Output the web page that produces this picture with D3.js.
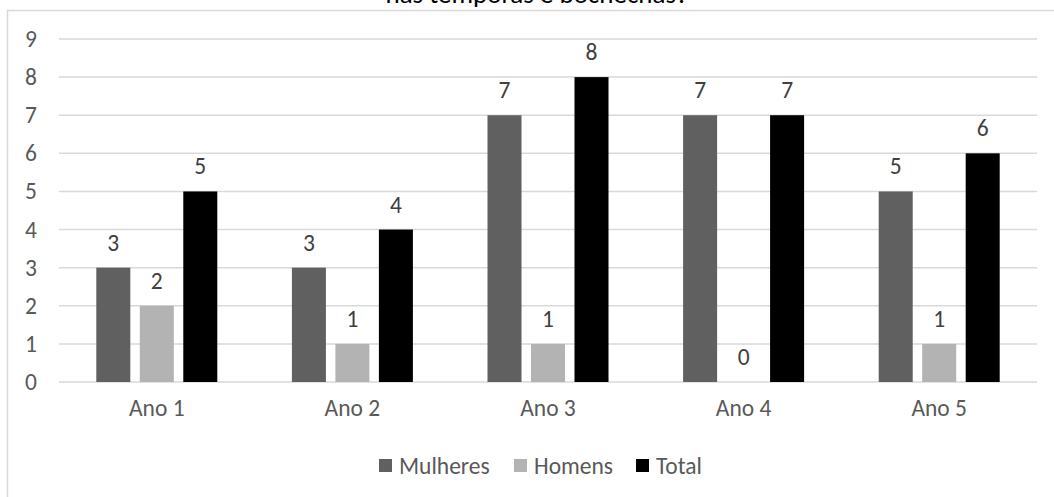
<!DOCTYPE html>
<html>
<head>
<meta charset="utf-8">
<script src="https://cdn.jsdelivr.net/npm/d3@7"></script>
<style>
  body { margin: 0; background: #fff; }
  svg { display: block; font-family: Carlito, Lato, "Open Sans", sans-serif; }
</style>
</head>
<body>
<div id="chart"></div>
<script>
// data
var categories = ["Ano 1", "Ano 2", "Ano 3", "Ano 4", "Ano 5"];
var seriesNames = ["Mulheres", "Homens", "Total"];
var mulheres = [3, 3, 7, 7, 5];
var homens = [2, 1, 1, 0, 1];
var total = [5, 4, 8, 7, 6];
var yTicks = [0, 1, 2, 3, 4, 5, 6, 7, 8, 9];
var colors = ["#606060", "#b3b3b3", "#000000"];

var width = 1054, height = 497;
var margin = { top: 39, right: 17, bottom: 115, left: 59 };
var fs = 23.5;

var svg = d3.select("#chart").append("svg")
  .attr("width", width).attr("height", height);

// chart border (cut off at the right and bottom)
svg.append("rect")
  .attr("x", 7.5).attr("y", 10.5)
  .attr("width", 1100).attr("height", 600)
  .attr("fill", "none").attr("stroke", "#d9d9d9").attr("stroke-width", 1.5);

// title, mostly cut off at the top like in the source image
svg.append("text")
  .attr("x", 537).attr("y", 3)
  .attr("text-anchor", "middle")
  .attr("font-size", 27)
  .attr("fill", "#000")
  .text("nas têmporas e bochechas?");

var x0 = d3.scaleBand().domain(categories).range([margin.left, width - margin.right]);
var x1 = d3.scaleBand().domain(seriesNames).range([-60.5, 60.5]).paddingInner(0.218);
var y = d3.scaleLinear().domain([0, 9]).range([height - margin.bottom, margin.top]);

// gridlines
svg.append("g").selectAll("line").data(yTicks).enter().append("line")
  .attr("x1", margin.left).attr("x2", width - margin.right)
  .attr("y1", function (d) { return y(d); })
  .attr("y2", function (d) { return y(d); })
  .attr("stroke", "#d9d9d9").attr("stroke-width", 1.5);

// y axis labels
var yAxis = svg.append("g")
  .attr("transform", "translate(" + margin.left + ",0)")
  .call(d3.axisLeft(y).tickValues(yTicks).tickSize(0).tickPadding(22));
yAxis.select(".domain").remove();
yAxis.selectAll("text").attr("font-size", fs).attr("fill", "#595959")
  .attr("font-family", "Carlito, Lato, sans-serif");

// x axis labels
var xAxis = svg.append("g")
  .attr("transform", "translate(0," + y(0) + ")")
  .call(d3.axisBottom(x0).tickSize(0).tickPadding(17));
xAxis.select(".domain").remove();
xAxis.selectAll("text").attr("font-size", fs).attr("fill", "#595959")
  .attr("font-family", "Carlito, Lato, sans-serif");

var rows = categories.map(function (c, i) {
  return { cat: c, values: [mulheres[i], homens[i], total[i]] };
});

var groups = svg.append("g").selectAll("g").data(rows).enter().append("g")
  .attr("transform", function (d) { return "translate(" + (x0(d.cat) + x0.bandwidth() / 2) + ",0)"; });

groups.selectAll("rect").data(function (d) {
  return d.values.map(function (v, j) { return { s: seriesNames[j], v: v, c: colors[j] }; });
}).enter().append("rect")
  .attr("x", function (d) { return x1(d.s); })
  .attr("width", x1.bandwidth())
  .attr("y", function (d) { return y(d.v); })
  .attr("height", function (d) { return y(0) - y(d.v); })
  .attr("fill", function (d) { return d.c; });

groups.selectAll("text.lbl").data(function (d) {
  return d.values.map(function (v, j) { return { s: seriesNames[j], v: v }; });
}).enter().append("text")
  .attr("class", "lbl")
  .attr("x", function (d) { return x1(d.s) + x1.bandwidth() / 2; })
  .attr("y", function (d) { return y(d.v) - 17; })
  .attr("text-anchor", "middle")
  .attr("font-size", fs)
  .attr("fill", "#404040")
  .text(function (d) { return d.v; });

// legend
var legendX = [379, 514, 636];
var legend = svg.append("g").selectAll("g").data(seriesNames).enter().append("g")
  .attr("transform", function (d, i) { return "translate(" + legendX[i] + ",459)"; });
legend.append("rect").attr("width", 13).attr("height", 13)
  .attr("fill", function (d, i) { return colors[i]; });
legend.append("text").attr("x", 20).attr("y", 15)
  .attr("font-size", fs).attr("fill", "#595959")
  .text(function (d) { return d; });
</script>
</body>
</html>
